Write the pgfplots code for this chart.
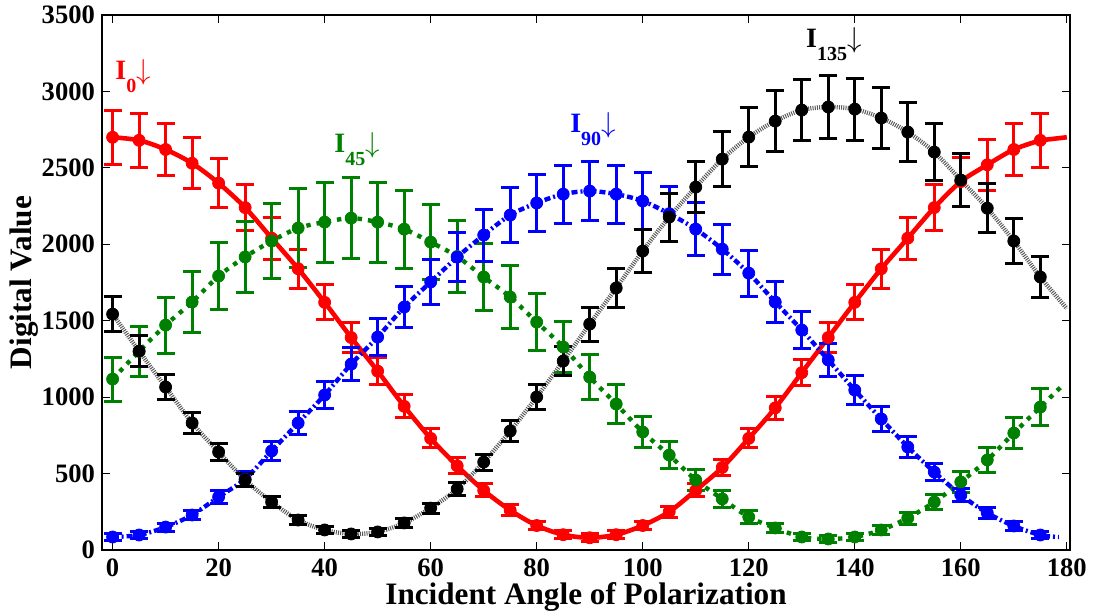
\documentclass[border=0pt]{standalone}
\usepackage{pgfplots}
\pgfplotsset{compat=1.18}
\usepackage{pgfplotstable}
\usepackage{fontspec}
\setmainfont{Liberation Serif}
\definecolor{mgreen}{RGB}{0,128,0}

\pgfplotstableread{
x y e
0 2700 177
5 2680 175
10 2620 172
15 2530 167
20 2400 159
25 2240 150
30 2040 138
35 1840 127
40 1620 114
45 1390 101
50 1170 88
55 940 75
60 730 62
65 550 52
70 390 43
75 260 35
80 160 29
85 100 26
90 80 25
95 100 26
100 160 29
105 250 35
110 390 43
115 540 51
120 730 62
125 930 74
130 1160 87
135 1390 101
140 1620 114
145 1840 127
150 2040 138
155 2240 150
160 2410 160
165 2520 166
170 2620 172
175 2680 175
}\redtab

\pgfplotstableread{
x y e
0 1118 144
5 1300 165
10 1471 184
15 1622 202
20 1792 221
25 1917 235
30 2021 247
35 2106 257
40 2145 262
45 2171 265
50 2145 262
55 2099 256
60 2014 247
65 1920 236
70 1786 220
75 1655 205
80 1491 186
85 1328 168
90 1131 145
95 955 125
100 772 104
105 621 86
110 458 68
115 334 53
120 216 40
125 144 32
130 85 25
135 72 23
140 85 25
145 131 30
150 209 39
155 314 51
160 445 66
165 589 83
170 765 103
175 935 123
}\greentab

\pgfplotstableread{
x y e
0 85 21
5 98 22
10 150 26
15 229 32
20 347 41
25 464 50
30 648 64
35 831 77
40 1014 91
45 1216 106
50 1393 119
55 1589 134
60 1753 146
65 1916 159
70 2060 170
75 2191 179
80 2270 185
85 2328 190
90 2348 191
95 2328 190
100 2283 186
105 2200 180
110 2099 172
115 1968 163
120 1811 151
125 1622 137
130 1439 123
135 1243 108
140 1046 93
145 857 79
150 674 66
155 510 53
160 360 42
165 242 33
170 157 27
175 98 22
}\bluetab

\pgfplotstableread{
x y e
0 1543 115
5 1301 100
10 1066 84
15 831 69
20 641 57
25 458 45
30 314 35
35 196 28
40 131 24
45 105 22
50 118 23
55 177 27
60 274 33
65 399 41
70 575 52
75 778 66
80 1001 80
85 1236 95
90 1478 111
95 1714 126
100 1956 142
105 2178 157
110 2374 169
115 2557 181
120 2701 191
125 2806 197
130 2878 202
135 2898 203
140 2884 202
145 2826 199
150 2734 193
155 2603 184
160 2420 172
165 2236 160
170 2021 146
175 1786 131
}\blacktab

\begin{document}
\begin{tikzpicture}
\begin{axis}[
  scale only axis,
  width=484pt, height=267.5pt,
  xmin=-2, xmax=180.6,
  ymin=0, ymax=3500,
  xtick={0,20,...,180},
  ytick={0,500,...,3500},
  tick align=inside,
  major tick length=4pt,
  tick style={black, line width=0.6pt},
  axis line style={line width=0.8pt},
  scaled y ticks=false,
  /pgf/number format/.cd, set thousands separator={}, assume math mode=true,
  /pgfplots/.cd,
  tick label style={font=\fontsize{13.3}{14}\selectfont\bfseries},
  xticklabel style={yshift=-1pt},
  xlabel={Incident Angle of Polarization},
  ylabel={Digital Value},
  label style={font=\fontsize{15.6}{16}\selectfont\bfseries},
  xlabel style={yshift=4pt},
  ylabel style={yshift=-5pt},
  clip=false,
  errstyle/.style={
    only marks, mark=*, mark size=3pt,
    error bars/.cd, y dir=both, y explicit,
    error bar style={line width=1.5pt},
    error mark=-,
    error mark options={rotate=90, line width=1.5pt, mark size=4.5pt}
  },
]
% red I0
\addplot[red, line width=2.3pt, smooth] table[x=x,y=y] {\redtab};
\addplot[red, line width=2.3pt, no marks] coordinates {(175,2680) (180,2700)};
\addplot[red, errstyle] table[x=x,y=y,y error=e] {\redtab};
% green I45
\addplot[mgreen, line width=2.2pt, dash pattern=on 2.2pt off 3pt, smooth] coordinates {
(0,1118)(5,1300)(10,1471)(15,1622)(20,1792)(25,1917)(30,2021)(35,2106)(40,2145)(45,2171)(50,2145)(55,2099)(60,2014)(65,1920)(70,1786)(75,1655)(80,1491)(85,1328)(90,1131)(95,955)(100,772)(105,621)(110,458)(115,334)(120,216)(125,144)(130,85)(135,72)(140,85)(145,131)(150,209)(155,314)(160,445)(165,589)(170,765)(175,935)(179,1070)};
\addplot[mgreen, errstyle] table[x=x,y=y,y error=e] {\greentab};
% blue I90
\addplot[blue, line width=2.2pt, dash pattern=on 3pt off 1.5pt on 1pt off 1.5pt, smooth] coordinates {
(0,85)(5,98)(10,150)(15,229)(20,347)(25,464)(30,648)(35,831)(40,1014)(45,1216)(50,1393)(55,1589)(60,1753)(65,1916)(70,2060)(75,2191)(80,2270)(85,2328)(90,2348)(95,2328)(100,2283)(105,2200)(110,2099)(115,1968)(120,1811)(125,1622)(130,1439)(135,1243)(140,1046)(145,857)(150,674)(155,510)(160,360)(165,242)(170,157)(175,98)(178.5,85)};
\addplot[blue, errstyle] table[x=x,y=y,y error=e] {\bluetab};
% black I135
\addplot[black!65, line width=2.2pt, dash pattern=on 0.5pt off 0.6pt, smooth] coordinates {
(0,1543)(5,1301)(10,1066)(15,831)(20,641)(25,458)(30,314)(35,196)(40,131)(45,105)(50,118)(55,177)(60,274)(65,399)(70,575)(75,778)(80,1001)(85,1236)(90,1478)(95,1714)(100,1956)(105,2178)(110,2374)(115,2557)(120,2701)(125,2806)(130,2878)(135,2898)(140,2884)(145,2826)(150,2734)(155,2603)(160,2420)(165,2236)(170,2021)(175,1786)(180,1580)};
\addplot[black, errstyle] table[x=x,y=y,y error=e] {\blacktab};
% annotations
\node[red, font=\fontsize{14}{14}\selectfont\bfseries, anchor=base west] at (axis cs:-0.8,3080) {I\raisebox{-6.5pt}{\fontsize{10}{10}\selectfont 0}$\downarrow$};
\node[mgreen, font=\fontsize{14}{14}\selectfont\bfseries, anchor=base west] at (axis cs:40.5,2600) {I\raisebox{-6.5pt}{\fontsize{10}{10}\selectfont 45}$\downarrow$};
\node[blue, font=\fontsize{14}{14}\selectfont\bfseries, anchor=base west] at (axis cs:85,2728) {I\raisebox{-6.5pt}{\fontsize{10}{10}\selectfont 90}$\downarrow$};
\node[black, font=\fontsize{14}{14}\selectfont\bfseries, anchor=base west] at (axis cs:129.5,3285) {I\raisebox{-6.5pt}{\fontsize{10}{10}\selectfont 135}$\downarrow$};
\end{axis}
\pgfresetboundingbox
\path[use as bounding box] (-51pt,-31.5pt) rectangle (496pt,275pt);
\end{tikzpicture}
\end{document}
